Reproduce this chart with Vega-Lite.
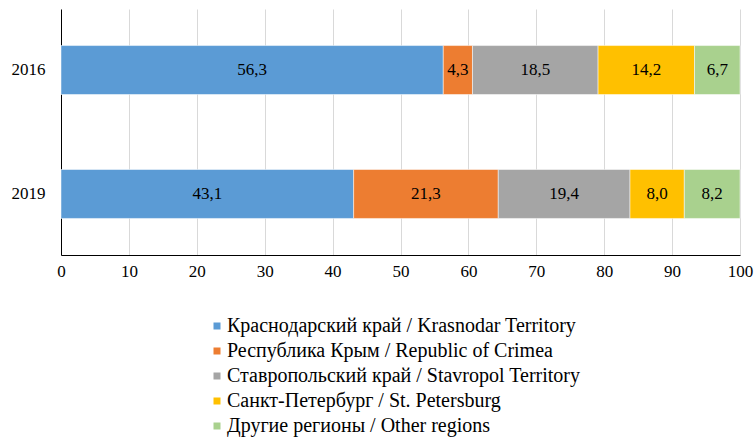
{
  "$schema": "https://vega.github.io/schema/vega-lite/v6.json",
  "width": 679,
  "height": 246,
  "autosize": {"type": "none"},
  "padding": {"left": 61, "top": 9, "right": 14, "bottom": 183},
  "config": {
    "locale": {"number": {"decimal": ",", "thousands": " ", "grouping": [3], "currency": ["", ""]}},
    "view": {"stroke": null},
    "font": "Liberation Serif"
  },
  "data": {
    "values": [
      {"year": "2016", "k": 1, "region": "Краснодарский край / Krasnodar Territory", "v": 56.3},
      {"year": "2016", "k": 2, "region": "Республика Крым / Republic of Crimea", "v": 4.3},
      {"year": "2016", "k": 3, "region": "Ставропольский край / Stavropol Territory", "v": 18.5},
      {"year": "2016", "k": 4, "region": "Санкт-Петербург / St. Petersburg", "v": 14.2},
      {"year": "2016", "k": 5, "region": "Другие регионы / Other regions", "v": 6.7},
      {"year": "2019", "k": 1, "region": "Краснодарский край / Krasnodar Territory", "v": 43.1},
      {"year": "2019", "k": 2, "region": "Республика Крым / Republic of Crimea", "v": 21.3},
      {"year": "2019", "k": 3, "region": "Ставропольский край / Stavropol Territory", "v": 19.4},
      {"year": "2019", "k": 4, "region": "Санкт-Петербург / St. Petersburg", "v": 8.0},
      {"year": "2019", "k": 5, "region": "Другие регионы / Other regions", "v": 8.2}
    ]
  },
  "transform": [
    {"stack": "v", "groupby": ["year"], "sort": [{"field": "k", "order": "ascending"}], "as": ["v0", "v1"]}
  ],
  "encoding": {
    "y": {
      "field": "year",
      "type": "nominal",
      "sort": ["2016", "2019"],
      "scale": {"paddingInner": 0.605, "paddingOuter": 0.295},
      "axis": {
        "title": null,
        "ticks": false,
        "domainColor": "black",
        "labelFontSize": 17,
        "labelFont": "Liberation Serif",
        "labelColor": "black",
        "labelPadding": 16
      }
    }
  },
  "layer": [
    {
      "mark": {"type": "bar", "stroke": "white", "strokeWidth": 0.5},
      "encoding": {
        "x": {
          "field": "v0",
          "type": "quantitative",
          "scale": {"domain": [0, 100], "nice": false},
          "axis": {
            "title": null,
            "values": [0, 10, 20, 30, 40, 50, 60, 70, 80, 90, 100],
            "grid": true,
            "gridColor": "#d9d9d9",
            "ticks": false,
            "domainColor": "black",
            "labelFontSize": 17,
            "labelFont": "Liberation Serif",
            "labelColor": "black",
            "labelPadding": 8,
            "labelFlush": false
          }
        },
        "x2": {"field": "v1"},
        "color": {
          "field": "region",
          "type": "nominal",
          "sort": {"field": "k"},
          "scale": {
            "domain": [
              "Краснодарский край / Krasnodar Territory",
              "Республика Крым / Republic of Crimea",
              "Ставропольский край / Stavropol Territory",
              "Санкт-Петербург / St. Petersburg",
              "Другие регионы / Other regions"
            ],
            "range": ["#5B9BD5", "#ED7D31", "#A5A5A5", "#FFC000", "#A9D18E"]
          },
          "legend": {
            "orient": "none",
            "legendX": 146,
            "legendY": 307,
            "title": null,
            "symbolType": "square",
            "symbolSize": 49,
            "symbolStrokeWidth": 0,
            "labelFontSize": 20,
            "labelFont": "Liberation Serif",
            "labelColor": "black",
            "labelLimit": 0,
            "labelOffset": 0,
            "rowPadding": 5,
            "padding": 0
          }
        }
      }
    },
    {
      "transform": [
        {"fold": ["v0", "v1"], "as": ["edge", "pos"]},
        {"aggregate": [{"op": "mean", "field": "pos", "as": "mid"}], "groupby": ["year", "region", "v", "k"]}
      ],
      "mark": {"type": "text", "fontSize": 17, "font": "Liberation Serif", "color": "black"},
      "encoding": {
        "x": {"field": "mid", "type": "quantitative"},
        "text": {"field": "v", "type": "quantitative", "format": ".1f"}
      }
    }
  ]
}
